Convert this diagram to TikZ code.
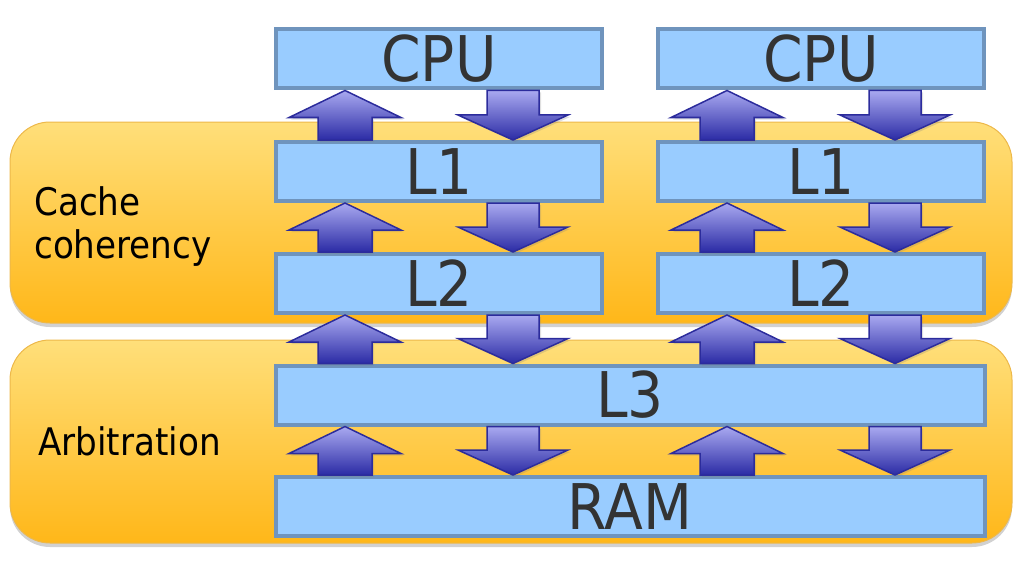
\documentclass[tikz,border=0pt]{standalone}
\usepackage{fontspec}
\setmainfont{DejaVu Sans Condensed}
\usepackage{tikz}
\usetikzlibrary{calc,shadows}
\definecolor{boxfill}{HTML}{99CCFF}
\definecolor{boxline}{HTML}{6F94BD}
\definecolor{textgray}{HTML}{333333}
\definecolor{arrowtop}{HTML}{A9A9F0}
\definecolor{arrowbot}{HTML}{2B2BA5}
\definecolor{arrowline}{HTML}{2C2C9C}
\definecolor{paneltop}{HTML}{FFDF7A}
\definecolor{panelbot}{HTML}{FFB719}
\definecolor{panelline}{HTML}{EDB84A}
\tikzstyle{panel} = [rounded corners=40pt,top color=paneltop,bottom color=panelbot,draw=panelline,line width=1pt,
    drop shadow={shadow xshift=0pt,shadow yshift=-4pt,opacity=.3,fill=black!60}]
\tikzstyle{cachebox} = [draw=boxline,fill=boxfill,rectangle,line width=4pt,minimum width=326pt,minimum height=59pt,
    inner sep=0pt,text=textgray,font=\fontsize{63pt}{70pt}\selectfont]
\tikzstyle{widebox} = [cachebox,minimum width=709pt]
\tikzstyle{sidetext} = [anchor=base west,align=left,inner sep=0pt,font=\fontsize{38pt}{43pt}\selectfont]
\tikzstyle{blockarrow} = [draw=arrowline,line width=1.5pt,top color=arrowtop,bottom color=arrowbot,
    drop shadow={shadow xshift=2pt,shadow yshift=-2pt,opacity=.25}]
% block arrow: lower box, upper box, column
\newcommand{\uparr}[3]{%
    \draw[blockarrow] ($(#1.north -| #3)+(-27,0)$) -- ($(#2.south -| #3)+(-27,27)$)
        -- ($(#2.south -| #3)+(-56,27)$) -- (#2.south -| #3)
        -- ($(#2.south -| #3)+(56,27)$) -- ($(#2.south -| #3)+(27,27)$)
        -- ($(#1.north -| #3)+(27,0)$) -- cycle;}
% block arrow: upper box, lower box, column
\newcommand{\downarr}[3]{%
    \draw[blockarrow] ($(#1.south -| #3)+(-26,0)$) -- ($(#2.north -| #3)+(-26,-25)$)
        -- ($(#2.north -| #3)+(-55,-25)$) -- (#2.north -| #3)
        -- ($(#2.north -| #3)+(55,-25)$) -- ($(#2.north -| #3)+(26,-25)$)
        -- ($(#1.south -| #3)+(26,0)$) -- cycle;}

\begin{document}
\begin{tikzpicture}[x=1pt,y=-1pt]
    \useasboundingbox (0,0) rectangle (1024,583);
    % panels
    \draw[panel] (10,122) rectangle (1012,323);
    \draw[panel] (10,340) rectangle (1012,543);
    \node[sidetext] (cohtext) at (34,258) {Cache\\coherency};
    \node[sidetext] (arbtext) at (38,455) {Arbitration};
    % boxes
    \node[cachebox] (cpuA) at (439,59) {CPU};
    \node[cachebox] (cpuB) at (821,59) {CPU};
    \node[cachebox] (l1A) at (439,171.5) {L1};
    \node[cachebox] (l1B) at (821,171.5) {L1};
    \node[cachebox] (l2A) at (439,283.5) {L2};
    \node[cachebox] (l2B) at (821,283.5) {L2};
    \node[widebox] (l3) at (630,395) {L3};
    \node[widebox] (ram) at (630,506.5) {RAM};
    % arrow columns
    \coordinate (upA) at (345,0);
    \coordinate (downA) at (513,0);
    \coordinate (upB) at (727,0);
    \coordinate (downB) at (895,0);
    % arrows
    \uparr{l1A}{cpuA}{upA}
    \downarr{cpuA}{l1A}{downA}
    \uparr{l1B}{cpuB}{upB}
    \downarr{cpuB}{l1B}{downB}
    \uparr{l2A}{l1A}{upA}
    \downarr{l1A}{l2A}{downA}
    \uparr{l2B}{l1B}{upB}
    \downarr{l1B}{l2B}{downB}
    \uparr{l3}{l2A}{upA}
    \downarr{l2A}{l3}{downA}
    \uparr{l3}{l2B}{upB}
    \downarr{l2B}{l3}{downB}
    \uparr{ram}{l3}{upA}
    \downarr{l3}{ram}{downA}
    \uparr{ram}{l3}{upB}
    \downarr{l3}{ram}{downB}
\end{tikzpicture}
\end{document}
